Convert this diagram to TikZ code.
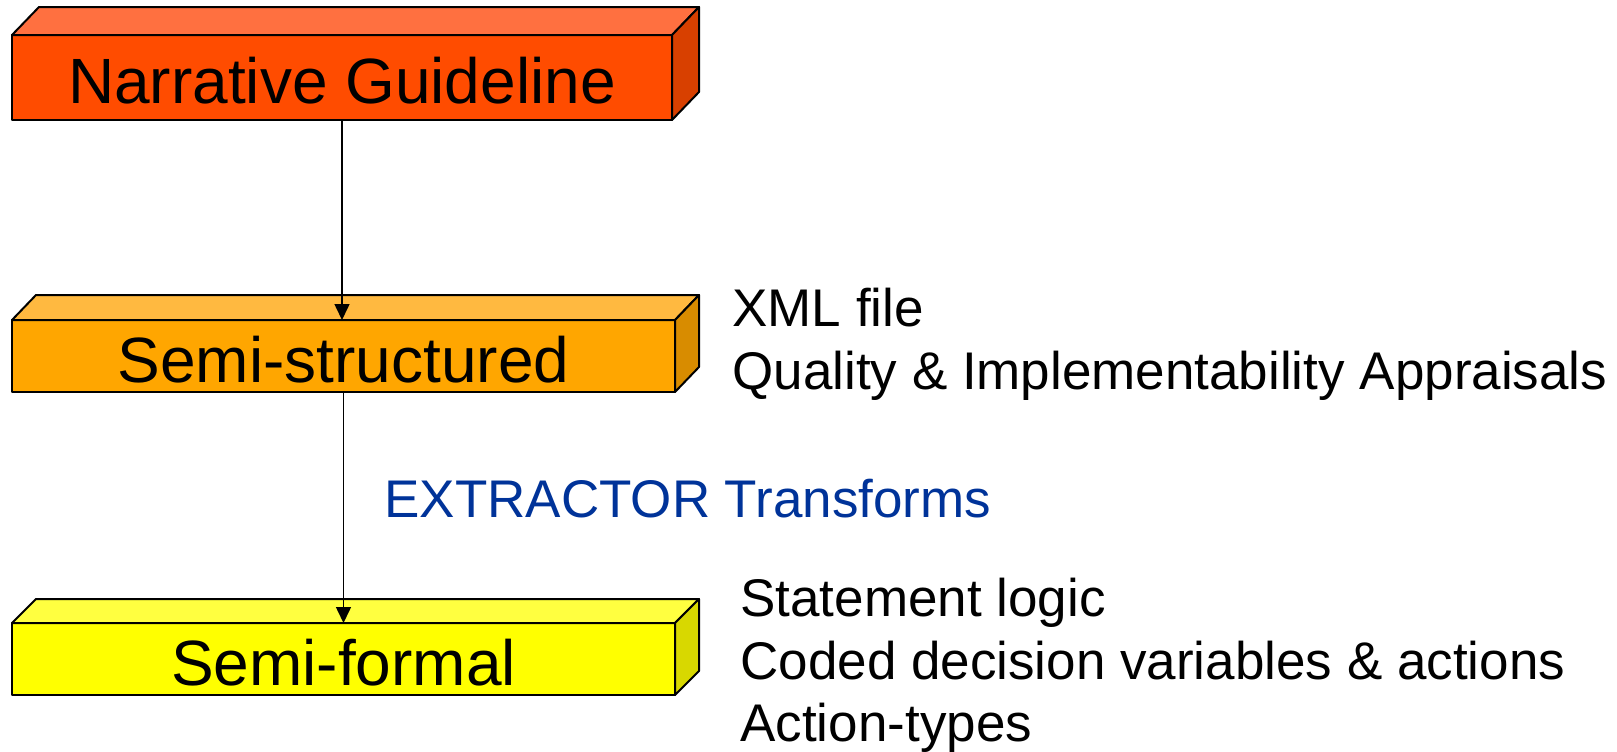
\documentclass[tikz,border=0pt]{standalone}
\usepackage{fontspec}
\setmainfont{Liberation Sans}
\usetikzlibrary{arrows.meta,positioning,calc}

\definecolor{narrFront}{RGB}{255,76,0}
\definecolor{narrTop}{RGB}{255,112,64}
\definecolor{narrSide}{RGB}{216,64,0}
\definecolor{semiFront}{RGB}{255,166,0}
\definecolor{semiTop}{RGB}{255,185,64}
\definecolor{semiSide}{RGB}{216,140,0}
\definecolor{formFront}{RGB}{255,255,0}
\definecolor{formTop}{RGB}{255,255,64}
\definecolor{formSide}{RGB}{216,216,0}
\definecolor{extractBlue}{RGB}{0,51,153}

\tikzset{
  face/.style={draw=black, line width=1pt, outer sep=0pt, inner sep=0pt,
    font=\fontsize{32}{36}\selectfont, text height=26pt, text depth=0pt},
  flow/.style={-{Triangle[length=8pt,width=7.5pt]}, line width=0.75pt},
  sidetxt/.style={anchor=base west, inner sep=0pt, font=\fontsize{26.5}{31}\selectfont},
}

\begin{document}
\begin{tikzpicture}[x=0.5pt,y=-0.5pt,line join=round]
    \useasboundingbox (0,0) rectangle (1617,751);

    % Front faces
    \node[face, fill=narrFront, minimum width=330pt, minimum height=42.5pt] (narr) at (342,77.5) {Narrative Guideline};
    \node[face, fill=semiFront, minimum width=331.5pt, minimum height=36pt] (semi) at (343.5,356) {Semi-structured};
    \node[face, fill=formFront, minimum width=331.5pt, minimum height=36pt] (form) at (343.5,659) {Semi-formal};

    % Top and side faces
    \foreach \b/\dx/\dy/\tc/\sc in {narr/27/28/narrTop/narrSide, semi/24/25/semiTop/semiSide, form/24/24/formTop/formSide} {
        \draw[line width=1pt, fill=\tc] (\b.north west) -- ++(\dx,-\dy) -- ($(\b.north east)+(\dx,-\dy)$) -- (\b.north east) -- cycle;
        \draw[line width=1pt, fill=\sc] (\b.north east) -- ++(\dx,-\dy) -- ($(\b.south east)+(\dx,-\dy)$) -- (\b.south east) -- cycle;
    }

    % Arrows
    \draw[flow] (narr.south) -- (narr.south |- semi.north);
    \draw[flow] (semi.south) -- (semi.south |- form.north);

    % Side notes
    \node[sidetxt] (xml) at (732,326) {XML file};
    \node[sidetxt] (qual) at (732,389) {Quality \& Implementability Appraisals};
    \node[sidetxt, text=extractBlue] (extr) at (384,517) {EXTRACTOR Transforms};
    \node[sidetxt] (stmt) at (740,616) {Statement logic};
    \node[sidetxt] (coded) at (740,679) {Coded decision variables \& actions};
    \node[sidetxt] (acty) at (740,741) {Action-types};
\end{tikzpicture}
\end{document}
